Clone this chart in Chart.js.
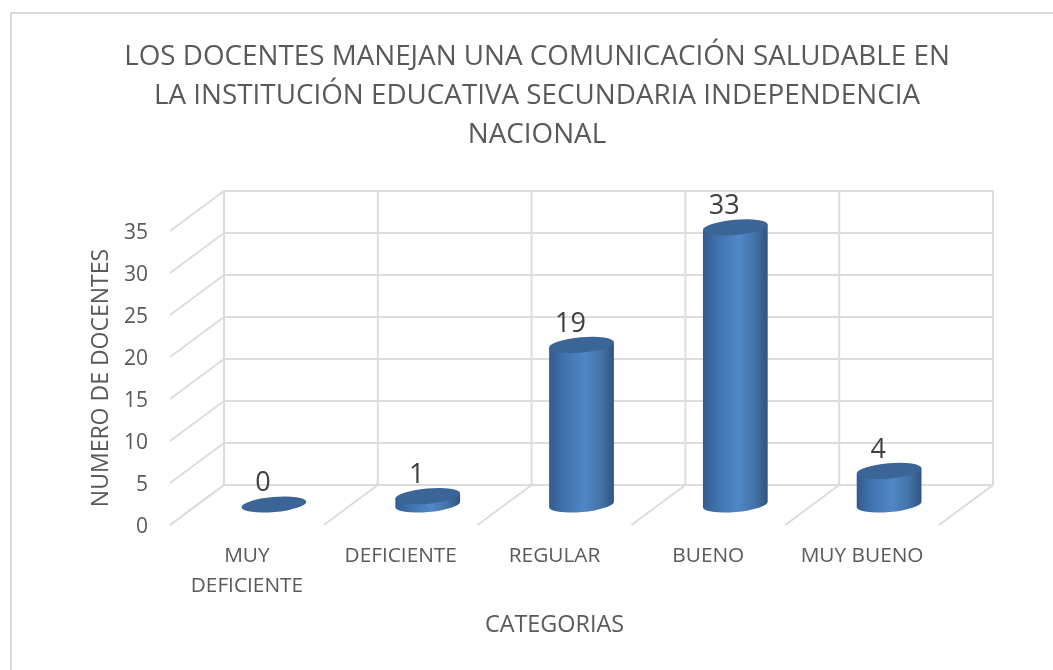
<!DOCTYPE html>
<html><head><meta charset="utf-8">
<style>
html,body{margin:0;padding:0;background:#fff;width:1053px;height:670px;overflow:hidden}
#frame{position:absolute;left:10px;top:12px;right:0;bottom:-5px;border-left:2px solid #d9d9d9;border-top:2px solid #d9d9d9}
canvas{position:absolute;left:0;top:0}
</style>
<script src="https://cdn.jsdelivr.net/npm/chart.js@4/dist/chart.umd.min.js"></script>
</head><body>
<div id="frame"></div>
<canvas id="c" width="1053" height="670"></canvas>
<script>
const titleLines = ['LOS DOCENTES MANEJAN UNA COMUNICACIÓN SALUDABLE EN','LA INSTITUCIÓN EDUCATIVA SECUNDARIA INDEPENDENCIA','NACIONAL'];
const categories = [['MUY','DEFICIENTE'],'DEFICIENTE','REGULAR','BUENO','MUY BUENO'];
const docentes = [0,1,19,33,4];
const yTitle = 'NUMERO DE DOCENTES';
const xTitle = 'CATEGORIAS';
const FONT = '"Open Sans", sans-serif';
const DEPTH = {backX:54, backY:-40, midX:27, midY:-20.5};
const TILT = -5*Math.PI/180, RY = 7.6;

const scene3d = {
  id:'scene3d',
  beforeDatasetsDraw(chart){
    const {ctx, scales:{x,y}} = chart;
    const L = x.left, R = x.right, B = y.bottom, T = y.top, bx = DEPTH.backX, by = DEPTH.backY;
    ctx.save();
    ctx.strokeStyle = '#dcdcdc'; ctx.lineWidth = 2;
    const line = (a,b,c,d)=>{ctx.beginPath();ctx.moveTo(a,b);ctx.lineTo(c,d);ctx.stroke();};
    y.ticks.forEach(t=>{
      const py = y.getPixelForValue(t.value);
      line(L,py,L+bx,py+by);
      line(L+bx,py+by,R+bx,py+by);
    });
    const step = (R-L)/categories.length;
    for(let i=0;i<=categories.length;i++){
      const px = L+i*step;
      line(px,B,px+bx,B+by);
      line(px+bx,B+by,px+bx,T+by);
    }
    ctx.restore();
  },
  beforeDatasetDraw(chart,args){
    const {ctx} = chart;
    const meta = args.meta;
    meta.data.forEach((bar,i)=>{
      const rx = bar.width/2;
      const cx = bar.x+DEPTH.midX, top = bar.y+DEPTH.midY, base = bar.base+DEPTH.midY;
      const dx = rx*Math.cos(TILT), dy = rx*Math.sin(TILT);
      ctx.save();
      if(base-top>0.5){
        const g = ctx.createLinearGradient(cx-dx,0,cx+dx,0);
        g.addColorStop(0,'#325c8e');g.addColorStop(0.22,'#4072ad');g.addColorStop(0.55,'#5087c7');
        g.addColorStop(0.8,'#4473a8');g.addColorStop(1,'#2f5380');
        ctx.fillStyle = g;
        ctx.beginPath();
        ctx.ellipse(cx,base,rx,RY,TILT,0,Math.PI,false);
        ctx.lineTo(cx-dx,top-dy);
        ctx.lineTo(cx+dx,top+dy);
        ctx.closePath();ctx.fill();
      }
      ctx.fillStyle = '#3a6596';
      ctx.beginPath();
      ctx.ellipse(cx,top,rx,RY,TILT,0,Math.PI*2);
      ctx.fill();
      ctx.fillStyle = '#404040';
      ctx.font = '27px '+FONT;
      ctx.textAlign='center';ctx.textBaseline='middle';
      ctx.fillText(String(docentes[i]),cx-11,top-21);
      ctx.restore();
    });
    return false;
  }
};

new Chart(document.getElementById('c'),{
  type:'bar',
  data:{labels:categories,datasets:[{label:yTitle,data:docentes,backgroundColor:'#4a7ebb',yAxisID:'y',
    categoryPercentage:1,barPercentage:0.4226}]},
  plugins:[scene3d],
  options:{
    responsive:false,animation:false,
    layout:{padding:{left:21,right:0,top:0,bottom:0}},
    plugins:{
      legend:{display:false},tooltip:{enabled:false},
      title:{display:true,text:titleLines,color:'#595959',
        font:{family:FONT,size:27.8,weight:'normal',lineHeight:1.403},
        fullSize:true,padding:{top:37.5,bottom:76.5}}
    },
    scales:{
      y:{min:0,max:35,
        ticks:{stepSize:5,color:'#595959',padding:22,labelOffset:2,font:{family:FONT,size:21}},
        grid:{display:false,drawTicks:false},border:{display:false},
        title:{display:true,text:yTitle,color:'#595959',font:{family:FONT,size:23,weight:'normal'},padding:{top:67,bottom:0}},
        afterFit(s){s.width=149;}
      },
      spacer:{position:'right',min:0,max:35,
        ticks:{display:false},grid:{display:false,drawTicks:false},border:{display:false},
        afterFit(s){s.width=114;}
      },
      x:{
        ticks:{color:'#595959',padding:16.5,maxRotation:0,autoSkip:false,font:{family:FONT,size:20.8,lineHeight:1.44}},
        grid:{display:false,drawTicks:false},border:{display:false},
        title:{display:true,text:xTitle,color:'#595959',font:{family:FONT,size:23.4,weight:'normal'},padding:{top:0,bottom:31}},
        afterFit(s){s.height=145;}
      }
    }
  }
});
</script>
</body></html>
